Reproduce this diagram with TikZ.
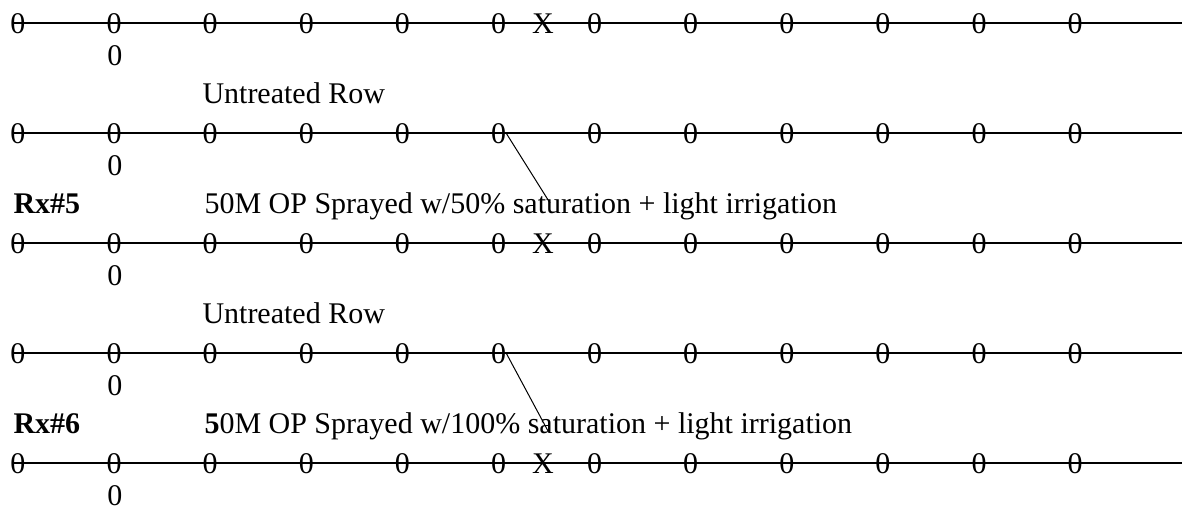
\documentclass[tikz,border=0pt]{standalone}
\usepackage{fontspec}
\setmainfont{Liberation Serif}

\begin{document}
\begin{tikzpicture}[x=0.4pt,y=-0.4pt,
    every node/.style={font=\fontsize{12}{14}\selectfont,inner sep=0pt,anchor=base},
    rowline/.style={line width=0.8pt},
    label/.style={anchor=base west}]
    \useasboundingbox (0,0) rectangle (1182,512);
    % plant rows
    \foreach \r/\y in {1/23,2/133,3/243,4/353,5/463}{
        \draw[rowline](12,\y)--(1182,\y);
        \foreach \i in {0,...,11}
            \node (z\r-\i) at (18+96.1*\i,\y+10.5) {0};
        \node (b\r) at (115,\y+43) {0};
    }
    \foreach \r/\y in {1/23,3/243,5/463}
        \node (x\r) at (543,\y+10.5) {X};
    \node[label] (u1) at (202,104) {Untreated Row};
    \node[label] (rx5) at (13,214) {\textbf{Rx\#5}};
    \node[label] (t5) at (204,214)
    {50M OP Sprayed w/50\% saturation + light irrigation};
    \node[label] (u3) at (202,324) {Untreated Row};
    \node[label] (rx6) at (13,434) {\textbf{Rx\#6}};
    \node[label] (t6) at (204,434)
    {\textbf{5}0M OP Sprayed w/100\% saturation + light irrigation};
    \coordinate (p5) at (550,203);
    \coordinate (p6) at (548,431);
    \draw[thin](z2-5.east)--(p5);
    \draw[thin](z4-5.east)--(p6);
\end{tikzpicture}
\end{document}
